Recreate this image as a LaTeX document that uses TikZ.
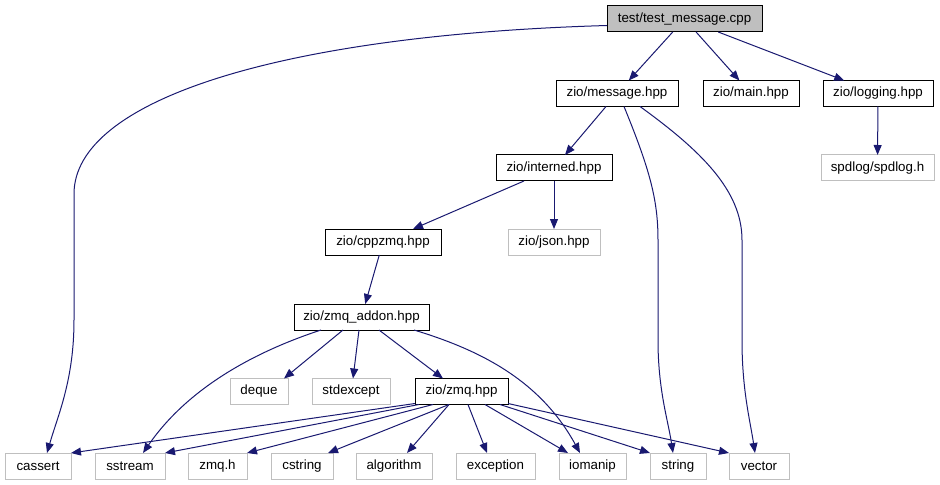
\documentclass[tikz,border=0pt]{standalone}
\usepackage{fontspec}
\setmainfont{Liberation Sans}
\usetikzlibrary{arrows.meta,calc}
\definecolor{edgeblue}{HTML}{191970}
\definecolor{boxgray}{HTML}{BFBFBF}
\begin{document}
\begin{tikzpicture}[x=0.75pt,y=-0.75pt,
  base/.style={rectangle, minimum height=19.5pt, inner sep=0pt, outer sep=0pt, line width=0.75pt, font=\fontsize{10}{12}\selectfont},
  dark/.style={base, draw=black},
  light/.style={base, draw=boxgray},
  w/.style={minimum width=#1*0.75pt},
  dep/.style={draw=edgeblue, line width=0.75pt, -{Triangle[length=7.5pt,width=6pt]}}]
\useasboundingbox (0,0) rectangle (940,485);
% nodes
\node[dark, fill=boxgray, w=155] (test) at (684.5,19) {test/test\_message.cpp};
\node[dark, w=122] (message) at (617,93.5) {zio/message.hpp};
\node[dark, w=96] (main) at (751,93.5) {zio/main.hpp};
\node[dark, w=110] (logging) at (878,93.5) {zio/logging.hpp};
\node[light, w=113] (spdlog) at (877.5,168) {spdlog/spdlog.h};
\node[dark, w=116] (interned) at (554,168) {zio/interned.hpp};
\node[light, w=92] (json) at (554,242) {zio/json.hpp};
\node[dark, w=116] (cppzmq) at (383,242) {zio/cppzmq.hpp};
\node[dark, w=135] (addon) at (361.5,317) {zio/zmq\_addon.hpp};
\node[light, w=58] (deque) at (259,391.5) {deque};
\node[light, w=78] (stdexcept) at (351,391.5) {stdexcept};
\node[dark, w=93] (zmqhpp) at (461.5,391.5) {zio/zmq.hpp};
\node[light, w=66] (cassert) at (38,466) {cassert};
\node[light, w=70] (sstream) at (130,466) {sstream};
\node[light, w=59] (zmqh) at (217.5,466) {zmq.h};
\node[light, w=62] (cstring) at (302,466) {cstring};
\node[light, w=76] (algorithm) at (394,466) {algorithm};
\node[light, w=79] (exception) at (495.5,466) {exception};
\node[light, w=67] (iomanip) at (592.5,466) {iomanip};
\node[light, w=56] (string) at (678,466) {string};
\node[light, w=60] (vector) at (759,466) {vector};
% edges from test
\draw[dep] (test) -- (message);
\draw[dep] (test) -- (main);
\draw[dep] (test) -- (logging);
\draw[dep] ($(test.west)+(0,6.5)$) .. controls (280,35) and (74,100) .. (74,194)
  -- (74,320) .. controls (74,380) and (58,415) .. ($(cassert.north)+(9,0)$);
\draw[dep] (logging) -- (spdlog);
% edges from message
\draw[dep] (message) -- (interned);
\draw[dep] ($(message.south)+(7,0)$) .. controls (650,170) and (658,200) .. (658,240)
  -- (658,340) .. controls (658,390) and (668,420) .. ($(string.north)+(-5,0)$);
\draw[dep] ($(message.south)+(23,0)$) .. controls (700,150) and (742,190) .. (742,240)
  -- (742,340) .. controls (742,390) and (750,420) .. ($(vector.north)+(-4,0)$);
% edges from interned
\draw[dep] (interned) -- (cppzmq);
\draw[dep] (interned) -- (json);
\draw[dep] (cppzmq) -- (addon);
% edges from addon
\draw[dep] ($(addon.south west)+(27,0)$) .. controls (260,350) and (190,385) .. ($(sstream.north)+(13,0)$);
\draw[dep] ($(addon.south)+(-18.5,0)$) -- ($(deque.north east)+(-4,0)$);
\draw[dep] ($(addon.south)+(-2.5,0)$) -- ($(stdexcept.north)+(2,0)$);
\draw[dep] ($(addon.south)+(17.5,0)$) -- ($(zmqhpp.north)+(-18.5,0)$);
\draw[dep] ($(addon.south)+(52.5,0)$) .. controls (480,350) and (540,380) .. ($(iomanip.north)+(-12.5,0)$);
% edges from zmq.hpp
\draw[dep] ($(zmqhpp.south west)+(0,-1)$) -- (cassert.north east);
\draw[dep] ($(zmqhpp.south west)+(4,0)$) -- (sstream.north east);
\draw[dep] ($(zmqhpp.south west)+(18,0)$) -- (zmqh.north east);
\draw[dep] ($(zmqhpp.south west)+(34,0)$) -- ($(cstring.north east)+(-5,0)$);
\draw[dep] ($(zmqhpp.south west)+(34,0)$) -- ($(algorithm.north)+(13,0)$);
\draw[dep] ($(zmqhpp.south west)+(53,0)$) -- ($(exception.north)+(-8.5,0)$);
\draw[dep] ($(zmqhpp.south west)+(70,0)$) -- ($(iomanip.north)+(-24.5,0)$);
\draw[dep] ($(zmqhpp.south west)+(85,0)$) -- (string.north west);
\draw[dep] ($(zmqhpp.south east)+(0,-1)$) -- (vector.north west);
\end{tikzpicture}
\end{document}
